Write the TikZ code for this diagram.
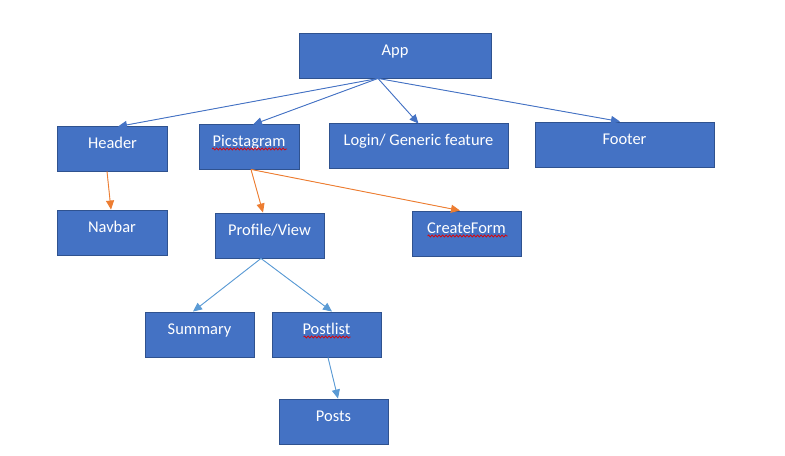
\documentclass[tikz,border=0pt]{standalone}
\usepackage{fontspec}
\setmainfont{Carlito}
\usetikzlibrary{arrows.meta,decorations.pathmorphing}
\definecolor{boxfill}{HTML}{4472C4}
\definecolor{boxline}{HTML}{2F528F}
\definecolor{linkblue}{HTML}{4472C4}
\definecolor{linklight}{HTML}{5B9BD5}
\definecolor{linkorange}{HTML}{ED7D31}
\definecolor{squig}{HTML}{E00000}
\tikzset{
  compbox/.style={draw=boxline, line width=0.9bp, fill=boxfill, text=white,
    minimum height=45bp, inner sep=0pt, text height=9bp, text depth=9bp,
    font=\fontsize{16.5}{18}\selectfont},
  link/.style={line width=0.9bp, -{Triangle[length=9bp,width=8bp]}},
  bluelink/.style={link, draw=linkblue, fill=linkblue},
  lightlink/.style={link, draw=linklight, fill=linklight},
  orangelink/.style={link, draw=linkorange, fill=linkorange},
  wavy/.style={draw=squig, line width=0.7bp, decorate,
    decoration={snake, amplitude=1bp, segment length=3.5bp}}
}
\begin{document}
\begin{tikzpicture}[x=1bp,y=-1bp]
\useasboundingbox[fill=white] (0,0) rectangle (785,456);
\node[compbox, minimum width=192bp] (app) at (395,55.5) {App};
\node[compbox, minimum width=110bp] (header) at (112.5,148.5) {Header};
\node[compbox, minimum width=100bp] (pic) at (249,146.5) {Picstagram};
\node[compbox, minimum width=179bp] (login) at (418.5,145.5) {Login/ Generic feature};
\node[compbox, minimum width=179bp] (footer) at (624.5,144.5) {Footer};
\node[compbox, minimum width=110bp] (navbar) at (112,232.5) {Navbar};
\node[compbox, minimum width=109bp] (profile) at (269.5,235.5) {Profile/View};
\node[compbox, minimum width=109bp] (create) at (466.5,233.5) {CreateForm};
\node[compbox, minimum width=109bp] (summary) at (199.5,334.5) {Summary};
\node[compbox, minimum width=109bp] (postlist) at (326.5,334.5) {Postlist};
\node[compbox, minimum width=109bp] (posts) at (333.5,421.5) {Posts};
% spell-check squiggles
\draw[wavy] ([xshift=-37bp,yshift=-2.5bp]pic.center) -- ([xshift=38bp,yshift=-2.5bp]pic.center);
\draw[wavy] ([xshift=-39bp,yshift=-2.5bp]create.center) -- ([xshift=41bp,yshift=-2.5bp]create.center);
\draw[wavy] ([xshift=-23bp,yshift=-2.5bp]postlist.center) -- ([xshift=24bp,yshift=-2.5bp]postlist.center);
% connectors from App
\draw[bluelink] ([xshift=-17bp]app.south) -- ([xshift=5.5bp,yshift=-1bp]header.north);
\draw[bluelink] ([xshift=-17bp]app.south) -- ([xshift=4bp,yshift=-1bp]pic.north);
\draw[bluelink] ([xshift=-17bp]app.south) -- ([yshift=-1bp]login.north);
\draw[bluelink] ([xshift=-17bp]app.south) -- ([xshift=-4.5bp]footer.north);
% orange connectors
\draw[orangelink] ([xshift=-5.5bp]header.south) -- ([xshift=-1bp]navbar.north);
\draw[orangelink] ([xshift=2bp]pic.south) -- ([xshift=-6.5bp]profile.north);
\draw[orangelink] ([xshift=2bp]pic.south) -- ([xshift=-6.5bp]create.north);
% light blue connectors
\draw[lightlink] ([xshift=-8.5bp]profile.south) -- ([xshift=-6.5bp]summary.north);
\draw[lightlink] ([xshift=-8.5bp]profile.south) -- ([xshift=5.5bp]postlist.north);
\draw[lightlink] ([xshift=1.5bp]postlist.south) -- ([xshift=4.5bp]posts.north);
\end{tikzpicture}
\end{document}
